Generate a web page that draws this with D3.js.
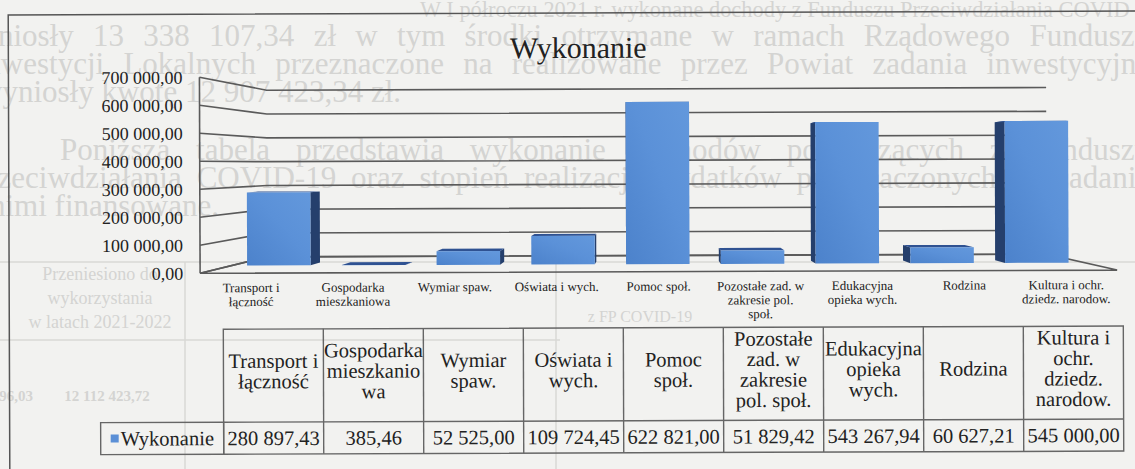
<!DOCTYPE html>
<html>
<head>
<meta charset="utf-8">
<script src="https://cdn.jsdelivr.net/npm/d3@7"></script>
<style>
  html, body { margin: 0; padding: 0; background: #f2f2f0; }
  svg { display: block; font-family: "Liberation Serif", "DejaVu Serif", serif; }
  text { font-family: "Liberation Serif", "DejaVu Serif", serif; }
</style>
</head>
<body>
<div id="chart"></div>
<script>
// data
var categories = ["Transport i łączność", "Gospodarka mieszkaniowa", "Wymiar spaw.", "Oświata i wych.",
  "Pomoc społ.", "Pozostałe zad. w zakresie pol. społ.", "Edukacyjna opieka wych.", "Rodzina",
  "Kultura i ochr. dziedz. narodow."];
var values = [280897.43, 385.46, 52525.00, 109724.45, 622821.00, 51829.42, 543267.94, 60627.21, 545000.00];
var axisLines = [["Transport i", "łączność"], ["Gospodarka", "mieszkaniowa"], ["Wymiar spaw."], ["Oświata i wych."],
  ["Pomoc społ."], ["Pozostałe zad. w", "zakresie pol.", "społ."], ["Edukacyjna", "opieka wych."], ["Rodzina"],
  ["Kultura i ochr.", "dziedz. narodow."]];
var headerLines = [["Transport i", "łączność"], ["Gospodarka", "mieszkanio", "wa"], ["Wymiar", "spaw."], ["Oświata i", "wych."],
  ["Pomoc", "społ."], ["Pozostałe", "zad. w", "zakresie", "pol. społ."], ["Edukacyjna", "opieka", "wych."], ["Rodzina"],
  ["Kultura i", "ochr.", "dziedz.", "narodow."]];
var yTicks = [0, 100000, 200000, 300000, 400000, 500000, 600000, 700000];
var seriesName = "Wykonanie";

// faint text of the scanned page showing through
var pageLines = [
  {x: 420, y: 17, len: 740, t: "W I półroczu 2021 r. wykonane dochody z Funduszu Przeciwdziałania COVID-19"},
  {x: -40, y: 46, len: 1190, t: "wyniosły 13 338 107,34 zł w tym środki otrzymane w ramach Rządowego Funduszu"},
  {x: -25, y: 74, len: 1175, t: "Inwestycji Lokalnych przeznaczone na realizowane przez Powiat zadania inwestycyjne"},
  {x: -20, y: 102, len: 0, t: "wyniosły kwotę 12 907 423,34 zł."},
  {x: 60, y: 160, len: 1090, t: "Poniższa tabela przedstawia wykonanie dochodów pochodzących z Funduszu"},
  {x: -30, y: 188, len: 1180, t: "Przeciwdziałania COVID-19 oraz stopień realizacji wydatków przeznaczonych na zadania"},
  {x: -10, y: 216, len: 0, t: "nimi finansowane."}
];

var fmt = d3.formatLocale({decimal: ",", thousands: " ", grouping: [3], currency: ["", ""]}).format(",.2f");

var W = 1135, H = 469;
var svg = d3.select("#chart").append("svg").attr("width", W).attr("height", H);

// page background bleed
var faint = "#d4d4d2";
var page = svg.append("g").attr("fill", faint);
page.selectAll("text.pl").data(pageLines).enter().append("text")
  .attr("class", "pl")
  .attr("x", function(d){ return d.x; }).attr("y", function(d){ return d.y; })
  .style("font-size", "31px").text(function(d){ return d.t; })
  .each(function(d) {
    // justify like the page: spread words, or shrink if too long
    if (!d.len) return;
    var nat = this.getComputedTextLength();
    var gaps = d.t.split(" ").length - 1;
    if (nat > d.len) d3.select(this).style("font-size", (31 * d.len / nat) + "px");
    else d3.select(this).attr("word-spacing", (d.len - nat) / gaps);
  });
page.append("text").attr("x", 100).attr("y", 280).attr("text-anchor", "middle").style("font-size", "18px").text("Przeniesiono do");
page.append("text").attr("x", 100).attr("y", 304).attr("text-anchor", "middle").style("font-size", "18px").text("wykorzystania");
page.append("text").attr("x", 100).attr("y", 328).attr("text-anchor", "middle").style("font-size", "18px").text("w latach 2021-2022");
page.append("text").attr("x", 107).attr("y", 401).attr("text-anchor", "middle").style("font-size", "15px").style("font-weight", "bold").text("12 112 423,72");
page.append("text").attr("x", 33).attr("y", 401).attr("text-anchor", "end").style("font-size", "15px").style("font-weight", "bold").text("194 396,03");
page.append("text").attr("x", 640).attr("y", 322).attr("text-anchor", "middle").style("font-size", "16px").text("z FP COVID-19");
var pageGrid = svg.append("g").attr("stroke", "#d8d8d6").attr("stroke-width", 1.5);
pageGrid.append("line").attr("x1", 0).attr("x2", 1135).attr("y1", 262).attr("y2", 262);
pageGrid.append("line").attr("x1", 0).attr("x2", 560).attr("y1", 340).attr("y2", 340);
pageGrid.append("line").attr("x1", 185).attr("x2", 185).attr("y1", 262).attr("y2", 469);
pageGrid.append("line").attr("x1", 556).attr("x2", 556).attr("y1", 262).attr("y2", 469);

var g = svg.append("g").attr("transform", "rotate(-0.2 567 240)");

// chart frame
g.append("rect").attr("x", 9).attr("y", 13).attr("width", 1160).attr("height", 480)
  .attr("fill", "none").attr("stroke", "#555").attr("stroke-width", 1.5);

g.append("text").attr("x", 579).attr("y", 58).attr("text-anchor", "middle")
  .style("font-size", "30px").attr("fill", "#222").text(seriesName);

// 3d projection: front plane scales, pushed back towards a vanishing point
var xF = d3.scaleLinear().domain([0, categories.length]).range([200, 1117]);
var yF = d3.scaleLinear().domain([0, 700000]).range([272, 76]);
var vp = [648, 164];
function proj(u, v, w) {
  var s = 1 - 0.15 * w;
  return [vp[0] + (xF(u) - vp[0]) * s, vp[1] + (yF(v) - vp[1]) * s];
}
var line = d3.line();

// floor
g.append("path")
  .attr("d", line([proj(0, 0, 0), proj(9, 0, 0), proj(9, 0, 1), proj(0, 0, 1)]) + "Z")
  .attr("fill", "none").attr("stroke", "#5a5a5a").attr("stroke-width", 1.6);

// gridlines on side and back wall
g.selectAll("path.grid").data(yTicks).enter().append("path")
  .attr("class", "grid")
  .attr("d", function(v){ return line([proj(0, v, 0), proj(0, v, 1), proj(9, v, 1)]); })
  .attr("fill", "none").attr("stroke", "#5a5a5a").attr("stroke-width", 1.6);
g.append("path").attr("d", line([proj(0, 0, 0), proj(0, 700000, 0)]))
  .attr("stroke", "#5a5a5a").attr("stroke-width", 1.6);

// y axis labels
var yAxis = g.append("g").attr("transform", "translate(200,0)")
  .call(d3.axisLeft(yF).tickValues(yTicks).tickSize(0).tickPadding(17).tickFormat(fmt));
yAxis.attr("font-family", null);
yAxis.select(".domain").remove();
yAxis.selectAll("text").style("font-size", "18px").attr("fill", "#222");

// bars
var defs = svg.append("defs");
var grad = defs.append("linearGradient").attr("id", "barGrad").attr("x1", 0).attr("x2", 1).attr("y1", 1).attr("y2", 0);
grad.append("stop").attr("offset", "0%").attr("stop-color", "#4c82cb");
grad.append("stop").attr("offset", "55%").attr("stop-color", "#5b91d8");
grad.append("stop").attr("offset", "100%").attr("stop-color", "#6398dc");

var band = d3.scaleBand().domain(d3.range(categories.length)).range([0, categories.length])
  .paddingInner(0.33).paddingOuter(0.165);
var wf = 0.467, wb = 0.64;

var bars = g.selectAll("g.bar").data(values).enter().append("g").attr("class", "bar");
bars.each(function(v, i) {
  var b = d3.select(this);
  var u0 = band(i), u1 = band(i) + band.bandwidth();
  var uc = (u0 + u1) / 2;
  var su = proj(uc, 0, 0)[0] < vp[0] ? u1 : u0;
  // side face
  b.append("path").attr("d", line([proj(su, 0, wf), proj(su, 0, wb), proj(su, v, wb), proj(su, v, wf)]) + "Z")
    .attr("fill", "#253f6c");
  // top face
  b.append("path").attr("d", line([proj(u0, v, wf), proj(u1, v, wf), proj(u1, v, wb), proj(u0, v, wb)]) + "Z")
    .attr("fill", "#2f5292");
  // front face
  b.append("path").attr("d", line([proj(u0, 0, wf), proj(u1, 0, wf), proj(u1, v, wf), proj(u0, v, wf)]) + "Z")
    .attr("fill", "url(#barGrad)");
});

// category labels under the floor
var catBand = d3.scaleBand().domain(categories).range([200, 1117]);
var cats = g.selectAll("text.cat").data(categories).enter().append("text")
  .attr("class", "cat").attr("text-anchor", "middle").attr("fill", "#222")
  .style("font-size", "13px");
cats.each(function(c, i) {
  var t = d3.select(this);
  axisLines[i].forEach(function(l, k) {
    t.append("tspan").attr("x", catBand(c) + catBand.bandwidth() / 2).attr("y", 291 + k * 14).text(l);
  });
});

// data table
var tb = d3.scaleBand().domain(categories).range([223, 1123]);
var tTop = 328, tMid = 421, tBot = 453;
var tg = g.append("g").attr("fill", "none").attr("stroke", "#666").attr("stroke-width", 1.4);
tg.append("rect").attr("x", 223).attr("y", tTop).attr("width", 900).attr("height", tBot - tTop);
tg.append("rect").attr("x", 100).attr("y", tMid).attr("width", 123).attr("height", tBot - tMid);
tg.append("line").attr("x1", 223).attr("x2", 1123).attr("y1", tMid).attr("y2", tMid);
tg.selectAll("line.col").data(categories.slice(1)).enter().append("line")
  .attr("x1", function(c){ return tb(c); }).attr("x2", function(c){ return tb(c); })
  .attr("y1", tTop).attr("y2", tBot);

var lh = 20.5;
var heads = g.selectAll("text.head").data(categories).enter().append("text")
  .attr("class", "head").attr("text-anchor", "middle").attr("fill", "#222").style("font-size", "20.5px");
heads.each(function(c, i) {
  var t = d3.select(this);
  var n = headerLines[i].length;
  headerLines[i].forEach(function(l, k) {
    t.append("tspan").attr("x", tb(c) + tb.bandwidth() / 2)
      .attr("y", 370 + (k - (n - 1) / 2) * lh + 7).text(l);
  });
});

g.selectAll("text.val").data(values).enter().append("text")
  .attr("class", "val").attr("text-anchor", "middle").attr("fill", "#222").style("font-size", "20.5px")
  .attr("x", function(v, i){ return tb(categories[i]) + tb.bandwidth() / 2; })
  .attr("y", 444).text(function(v){ return fmt(v); });

g.append("rect").attr("x", 110).attr("y", 433).attr("width", 8).attr("height", 8).attr("fill", "#5b8fd6");
g.append("text").attr("x", 120).attr("y", 444).attr("fill", "#222").style("font-size", "20.5px").text(seriesName);
</script>
</body>
</html>
